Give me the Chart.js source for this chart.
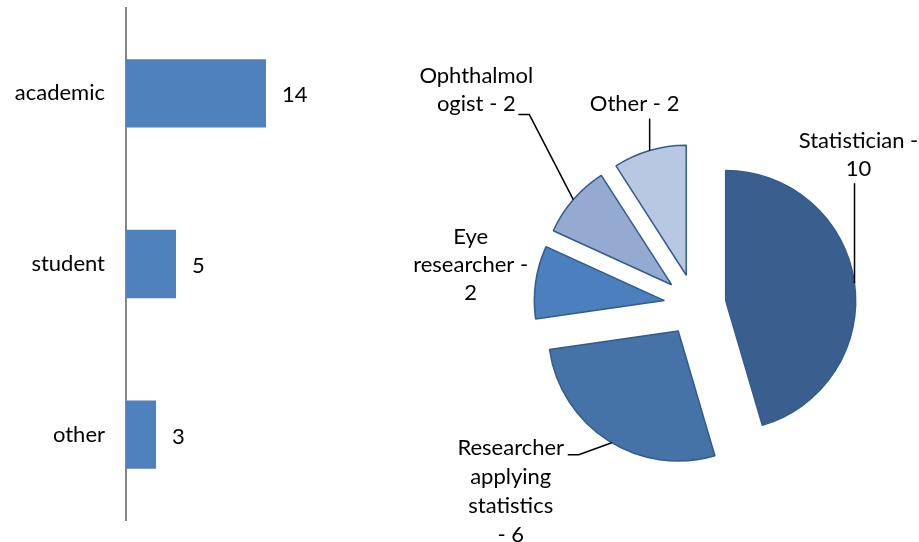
<!DOCTYPE html>
<html><head><meta charset="utf-8">
<script src="https://cdn.jsdelivr.net/npm/chart.js@4"></script>
<style>
html,body{margin:0;padding:0;background:#fff;}
#wrap{position:relative;width:919px;height:542px;overflow:hidden;background:#fff;}
canvas{position:absolute;top:0;}
#bar{left:0;}
#pie{left:400px;}
</style></head><body>
<div id="wrap"><canvas id="bar" width="400" height="542"></canvas><canvas id="pie" width="519" height="542"></canvas></div>
<script>
// ---- data ----
const roleCategories = ['academic', 'student', 'other'];
const roleCounts = [14, 5, 3];

const professionNames = ['Statistician', 'Researcher applying statistics', 'Eye researcher', 'Ophthalmologist', 'Other'];
const professionCounts = [10, 6, 2, 2, 2];
const professionLabelLines = [
  ['Statistician -', '10'],
  ['Researcher', 'applying', 'statistics', '- 6'],
  ['Eye', 'researcher -', '2'],
  ['Ophthalmol', 'ogist - 2'],
  ['Other - 2']
];

// ---- styles ----
const FONT = 'Lato';
const barColor = '#4F81BD';
const sliceColors = ['#3A5F8E', '#4572A7', '#4B7FBD', '#95AAD1', '#B9C8E2'];
const sliceBorder = '#335B8D';
const labelPlacement = [
  {at: 0.503, leader: [[0, -100]], dx: 4, dy: -142, lh: 28},
  {at: 0.48, leader: [[-33, 12], [-44, 12]], dx: -101, dy: 5, lh: 29},
  {at: 0.5, leader: null, dx: -65, dy: -45, lh: 28},
  {at: 0.5, leader: [[-44, -85], [-55, -85]], dx: -97, dy: -124, lh: 28},
  {at: 0.5, leader: [[0, -32]], dx: -15, dy: -47, lh: 28}
];

Chart.defaults.font.family = FONT;
Chart.defaults.color = '#000';

// ---- bar chart ----
const barValues = {
  id: 'barValues',
  afterDatasetsDraw(chart) {
    const ctx = chart.ctx;
    const meta = chart.getDatasetMeta(0);
    ctx.save();
    ctx.font = '22px ' + FONT;
    ctx.fillStyle = '#000';
    ctx.textAlign = 'left';
    ctx.textBaseline = 'middle';
    meta.data.forEach((bar, i) => {
      ctx.fillText(String(roleCounts[i]), bar.x + 16, bar.y + 2);
    });
    ctx.restore();
  }
};

new Chart(document.getElementById('bar'), {
  type: 'bar',
  data: {
    labels: roleCategories,
    datasets: [{data: roleCounts, backgroundColor: barColor, borderWidth: 0,
      barPercentage: 0.4, categoryPercentage: 1}]
  },
  options: {
    indexAxis: 'y',
    responsive: false,
    animation: false,
    layout: {padding: {top: 8, bottom: 22, left: 0, right: 74}},
    plugins: {legend: {display: false}, tooltip: {enabled: false}},
    scales: {
      x: {display: false, min: 0, max: 20},
      y: {
        afterFit(scale) { scale.width = 126; scale.paddingTop = 0; scale.paddingBottom = 0; },
        grid: {display: true, drawOnChartArea: false, drawTicks: false},
        border: {display: true, color: '#868686', width: 2},
        ticks: {padding: 21, color: '#000', font: {family: FONT, size: 22}}
      }
    }
  },
  plugins: [barValues]
});

// ---- exploded pie ----
const explode = {
  id: 'explode',
  afterDatasetUpdate(chart, args, opts) {
    const meta = chart.getDatasetMeta(args.index);
    meta.data.forEach(arc => {
      const mid = (arc.startAngle + arc.endAngle) / 2;
      arc.x += Math.cos(mid) * opts.distance;
      arc.y += Math.sin(mid) * opts.distance;
    });
  }
};

const pieLabels = {
  id: 'pieLabels',
  afterDatasetsDraw(chart) {
    const ctx = chart.ctx;
    const arcs = chart.getDatasetMeta(0).data;
    ctx.save();
    ctx.font = '22px ' + FONT;
    ctx.fillStyle = '#000';
    ctx.textAlign = 'center';
    ctx.textBaseline = 'middle';
    ctx.strokeStyle = '#000';
    ctx.lineWidth = 1.5;
    arcs.forEach((arc, i) => {
      const p = labelPlacement[i];
      const a = arc.startAngle + p.at * (arc.endAngle - arc.startAngle);
      const ax = arc.x + Math.cos(a) * arc.outerRadius;
      const ay = arc.y + Math.sin(a) * arc.outerRadius;
      if (p.leader) {
        ctx.beginPath();
        ctx.moveTo(ax, ay);
        p.leader.forEach(([dx, dy]) => ctx.lineTo(ax + dx, ay + dy));
        ctx.stroke();
      }
      professionLabelLines[i].forEach((t, k) => ctx.fillText(t, ax + p.dx, ay + p.dy + k * p.lh));
    });
    ctx.restore();
  }
};

new Chart(document.getElementById('pie'), {
  type: 'pie',
  data: {
    labels: professionNames,
    datasets: [{data: professionCounts, backgroundColor: sliceColors,
      borderColor: sliceBorder, borderWidth: 1.5, radius: 130}]
  },
  options: {
    responsive: false,
    animation: false,
    layout: {padding: {left: 71, right: 0, top: 68, bottom: 0}},
    plugins: {legend: {display: false}, tooltip: {enabled: false}, explode: {distance: 31}}
  },
  plugins: [explode, pieLabels]
});
</script>
</body></html>
